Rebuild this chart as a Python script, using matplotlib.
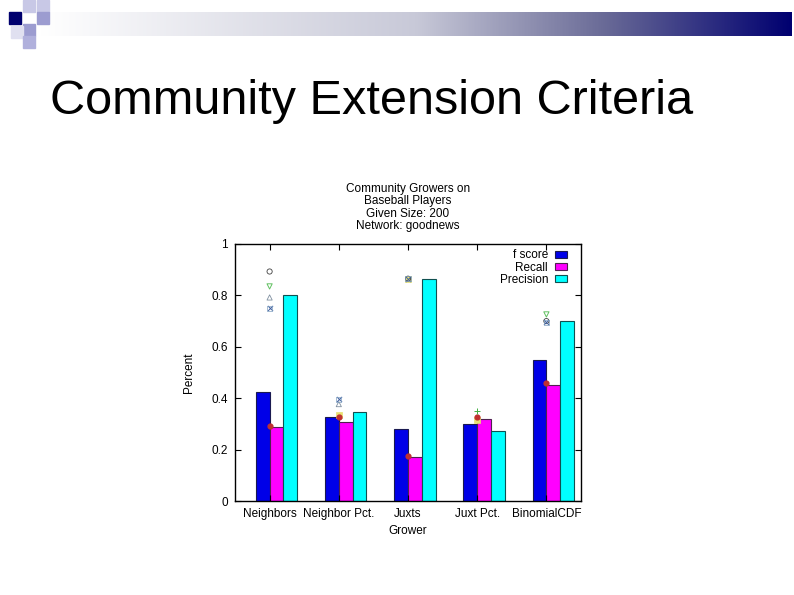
import numpy as np
import matplotlib.pyplot as plt
from matplotlib.patches import Rectangle
import matplotlib.colors as mcolors

plt.rcParams['font.family'] = ['Liberation Sans', 'DejaVu Sans']

# data
growers = ['Neighbors', 'Neighbor Pct.', 'Juxts', 'Juxt Pct.', 'BinomialCDF']
f_score = [0.424, 0.325, 0.282, 0.298, 0.550]
recall = [0.286, 0.306, 0.170, 0.321, 0.452]
precision = [0.803, 0.348, 0.863, 0.274, 0.702]

# small point markers drawn over the groups (nan = none)
nan = np.nan
circle_pts = [0.893, nan, 0.865, nan, 0.700]
tri_down_pts = [0.835, nan, nan, nan, 0.726]
tri_up_pts = [0.792, 0.377, nan, nan, nan]
xbox_pts = [0.750, 0.396, 0.865, nan, 0.696]
square_pts = [nan, 0.334, 0.865, 0.315, nan]
dot_pts = [0.292, 0.326, 0.176, 0.327, 0.458]
plus_pts = [nan, nan, nan, 0.351, nan]

fig = plt.figure(figsize=(7.94, 5.95), dpi=100, facecolor='white')

# slide decoration: gradient bar + squares at top-left
grad = np.linspace(0, 1, 256).reshape(1, -1)
cmap = mcolors.LinearSegmentedColormap.from_list(
    'g', [(0, '#ffffff'), (0.5, '#c8c9d8'), (0.75, '#6a6b97'), (1, '#000070')])
gax = fig.add_axes([40/794, 1-36/595, 752/794, 24/595])
gax.imshow(grad, aspect='auto', cmap=cmap)
gax.axis('off')

for (x, y, c) in [(9, 12, '#00006e'), (23, 0, '#c8c8e6'), (37, 0, '#c8c8e6'),
                  (23, 24, '#9c9cd0'), (11, 26, '#e0e0f0'), (23, 36, '#b0b0dc'),
                  (37, 12, '#9c9cd0')]:
    fig.patches.append(Rectangle((x/794, 1-(y+12)/595), 12/794, 12/595,
                                 transform=fig.transFigure, color=c, zorder=5))

fig.text(50/794, 1-101/595, 'Community Extension Criteria', fontsize=35,
         va='center', ha='left', color='black')

ax = fig.add_axes([235/794, 1-501/595, 346/794, 257/595])
x = np.arange(len(growers))
w = 0.2
ax.bar(x - 0.1, f_score, w, color='#0000e8', edgecolor='#1a1a50', linewidth=0.8, label='f score')
ax.bar(x + 0.1, recall, w, color='#ff00ff', edgecolor='#502050', linewidth=0.8, label='Recall')
ax.bar(x + 0.3, precision, w, color='#00ffff', edgecolor='#105050', linewidth=0.8, label='Precision')

ms = 14
ax.scatter(x, circle_pts, s=ms, marker='o', facecolors='none', edgecolors='#404040', linewidths=0.6, zorder=4)
ax.scatter(x, tri_down_pts, s=ms, marker='v', facecolors='none', edgecolors='#60c060', linewidths=0.7, zorder=4)
ax.scatter(x, tri_up_pts, s=ms, marker='^', facecolors='none', edgecolors='#8090a0', linewidths=0.6, zorder=4)
ax.scatter(x, xbox_pts, s=ms, marker='x', color='#4060a0', linewidths=0.7, zorder=4)
ax.scatter(x, xbox_pts, s=ms, marker='s', facecolors='none', edgecolors='#80a0c0', linewidths=0.5, zorder=4)
ax.scatter(x, square_pts, s=ms, marker='s', color='#e8e070', linewidths=0.5, zorder=3)
ax.scatter(x, dot_pts, s=12, marker='o', color='#c03030', zorder=4)
ax.scatter(x, plus_pts, s=ms, marker='+', color='#40b040', linewidths=0.7, zorder=4)

ax.set_xlim(-0.5, 4.5)
ax.set_ylim(0, 1)
ax.set_xticks(x)
ax.set_xticklabels(growers, fontsize=8.5)
ax.set_yticks([0, 0.2, 0.4, 0.6, 0.8, 1])
ax.set_yticklabels(['0', '0.2', '0.4', '0.6', '0.8', '1'], fontsize=8.5)
ax.tick_params(direction='in', top=True, right=True, length=4, width=0.8, pad=5)
for s in ax.spines.values():
    s.set_linewidth(1.0)
ax.set_xlabel('Grower', fontsize=8.5, labelpad=4)
ax.set_ylabel('Percent', fontsize=8.5, labelpad=12)

ax.legend(loc='upper right', bbox_to_anchor=(0.99, 1.02), frameon=False, fontsize=8.5,
          markerfirst=False, handlelength=1.0, handleheight=0.55, labelspacing=0.02,
          handletextpad=0.6)

fig.text(408/794, 1-207.5/595, 'Community Growers on\nBaseball Players\nGiven Size: 200\nNetwork: goodnews',
         ha='center', va='center', fontsize=8.5, linespacing=1.01)

fig.savefig('out.png', dpi=100, facecolor='white')
